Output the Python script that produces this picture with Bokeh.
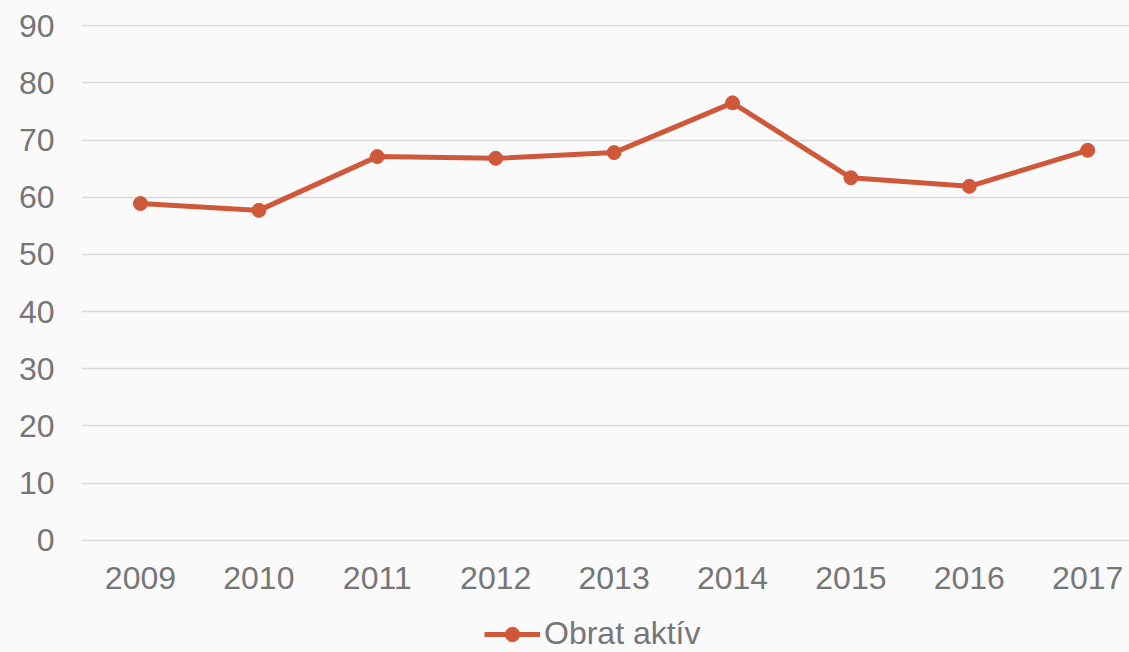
from bokeh.plotting import figure
from bokeh.layouts import column
from bokeh.models import Range1d, FixedTicker, Legend, LegendItem
from bokeh.embed import file_html
from bokeh.resources import INLINE

years = [2009, 2010, 2011, 2012, 2013, 2014, 2015, 2016, 2017]
obrat_aktiv = [58.9, 57.7, 67.1, 66.8, 67.8, 76.5, 63.4, 61.9, 68.2]
y_ticks = [0, 10, 20, 30, 40, 50, 60, 70, 80, 90]
series_name = "Obrat aktív"

LINE_COLOR = "#D0583A"
TEXT_COLOR = "#767676"
GRID_COLOR = "#D9D9D9"
BG = "#FAFAFA"
FONT = "Liberation Sans"

p = figure(width=1129, height=608, output_backend="svg", toolbar_location=None,
           x_range=Range1d(2008.502, 2017.353), y_range=Range1d(-0.2, 90.2),
           min_border_left=81, min_border_right=0, min_border_top=24,
           min_border_bottom=67)
p.background_fill_color = BG
p.border_fill_color = BG
p.outline_line_color = None

ln = p.line(years, obrat_aktiv, line_color=LINE_COLOR, line_width=5)
sc = p.scatter(years, obrat_aktiv, size=14, fill_color=LINE_COLOR, line_color=LINE_COLOR)

p.xaxis.ticker = FixedTicker(ticks=years)
p.yaxis.ticker = FixedTicker(ticks=y_ticks)
for ax in (p.xaxis, p.yaxis):
    ax.axis_line_color = None
    ax.major_tick_line_color = None
    ax.minor_tick_line_color = None
    ax.major_label_text_font = FONT
    ax.major_label_text_font_size = "32px"
    ax.major_label_text_color = TEXT_COLOR
p.xaxis.major_label_standoff = 19
p.yaxis.major_label_standoff = 21

p.xgrid.grid_line_color = None
p.ygrid.grid_line_color = GRID_COLOR
p.ygrid.grid_line_width = 1.5

# legend strip below the chart (series drawn out of view; only its legend shows)
q = figure(width=1129, height=44, output_backend="svg", toolbar_location=None,
           x_range=Range1d(0, 1), y_range=Range1d(0, 1),
           x_axis_location=None, y_axis_location=None,
           min_border_left=0, min_border_right=0, min_border_top=0,
           min_border_bottom=0)
q.background_fill_color = BG
q.border_fill_color = BG
q.outline_line_color = None
q.grid.visible = False
lq = q.line(years, obrat_aktiv, line_color=LINE_COLOR, line_width=5)
sq = q.scatter(years, obrat_aktiv, size=14, fill_color=LINE_COLOR, line_color=LINE_COLOR)

legend = Legend(items=[LegendItem(label=series_name, renderers=[lq, sq])],
                location=(403, 0), orientation="horizontal",
                label_text_font=FONT, label_text_font_size="32px",
                label_text_color=TEXT_COLOR, glyph_width=56, glyph_height=36,
                label_standoff=4, padding=0, margin=0, spacing=0,
                background_fill_alpha=0, border_line_color=None)
q.add_layout(legend, "center")

layout = column(p, q, spacing=0, styles={"background-color": BG})
open("out.html", "w").write(file_html(layout, INLINE))
